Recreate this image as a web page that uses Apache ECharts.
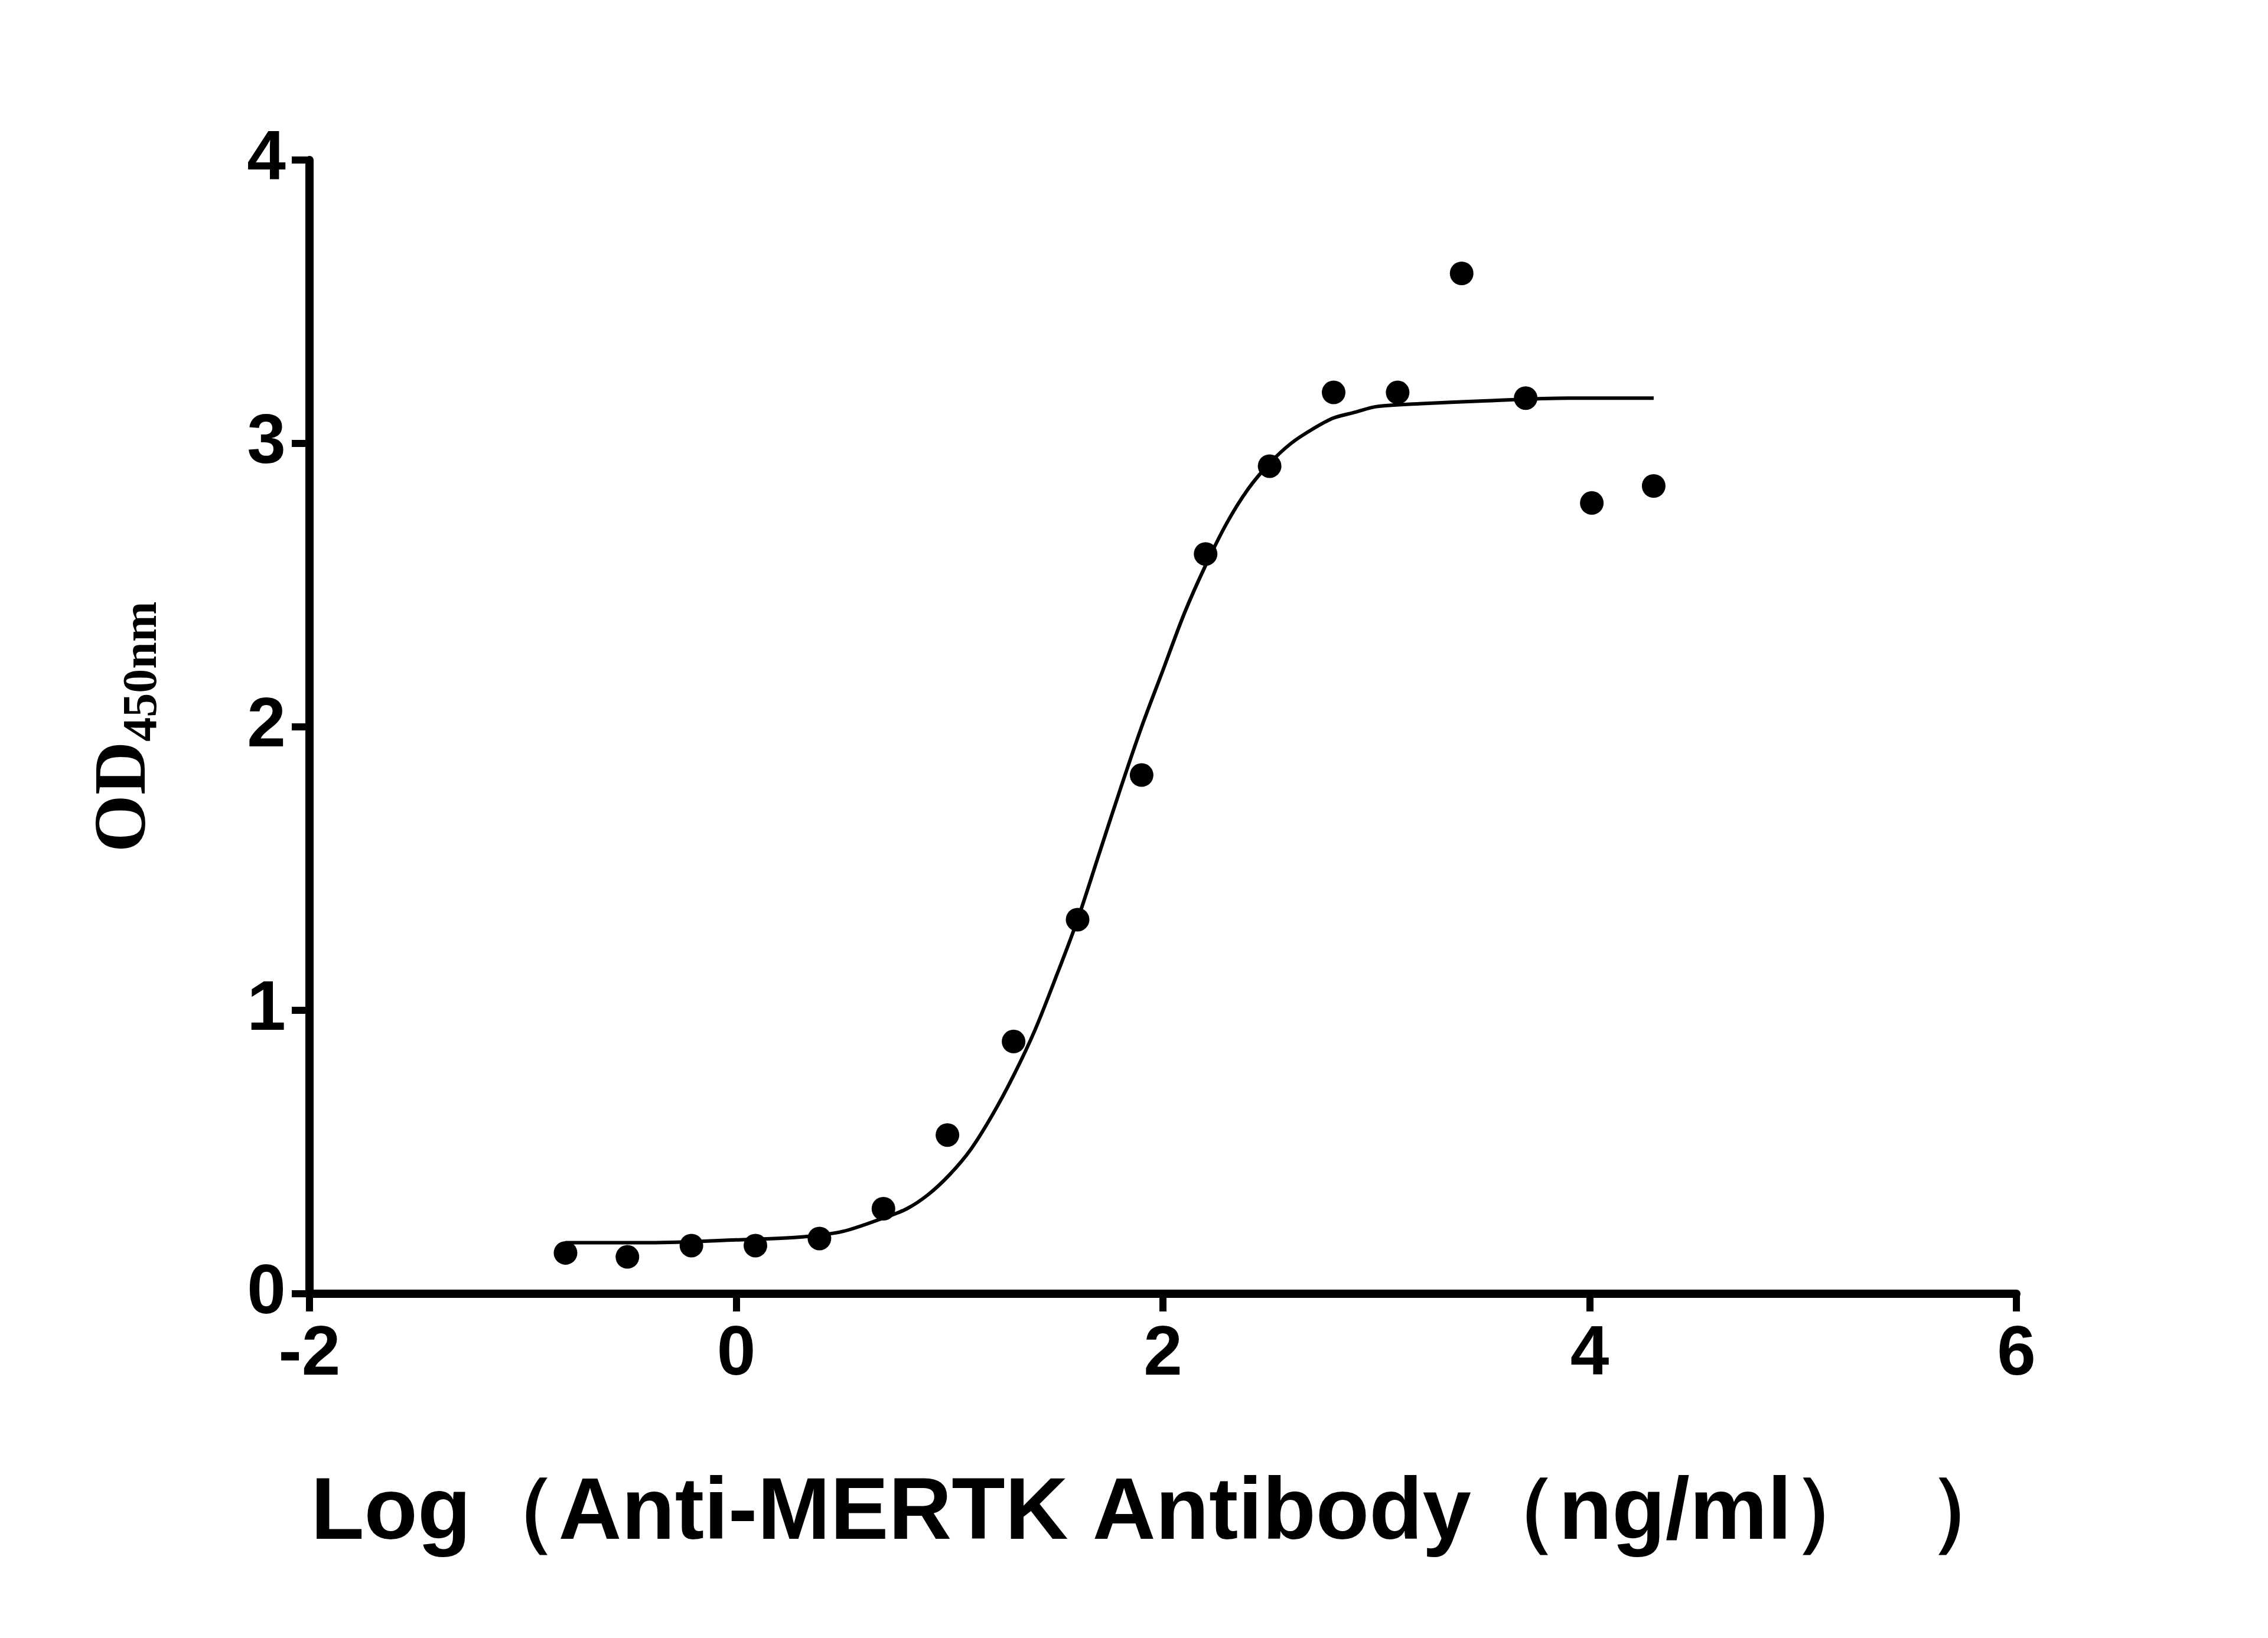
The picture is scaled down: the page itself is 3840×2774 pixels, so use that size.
<!DOCTYPE html>
<html><head><meta charset="utf-8">
<script src="https://cdn.jsdelivr.net/npm/echarts@6/dist/echarts.min.js"></script>
<style>html,body{margin:0;padding:0;background:#fff}#c{width:3840px;height:2774px}</style>
</head><body><div id="c"></div>
<script>
const pointX = [-0.8,-0.51,-0.21,0.09,0.39,0.69,0.99,1.30,1.60,1.90,2.20,2.50,2.80,3.10,3.40,3.70,4.01,4.30];
const pointY = [0.144,0.13,0.17,0.17,0.195,0.30,0.56,0.89,1.32,1.83,2.61,2.92,3.18,3.18,3.60,3.16,2.79,2.85];
const curveX = [-0.8,-0.4,0,0.3,0.5,0.7,0.8,0.9,1.0,1.1,1.2,1.3,1.4,1.5,1.6,1.7,1.8,1.9,2.0,2.1,2.2,2.3,2.4,2.5,2.6,2.7,2.8,2.9,3.0,3.2,3.5,3.9,4.3];
const curveY = [0.18,0.18,0.19,0.20,0.22,0.27,0.30,0.35,0.42,0.51,0.63,0.77,0.93,1.12,1.32,1.55,1.78,2.00,2.20,2.40,2.57,2.72,2.84,2.93,3.00,3.05,3.09,3.11,3.13,3.14,3.15,3.16,3.16];
const xTicks = [-2,0,2,4,6];
const yTicks = [0,1,2,3,4];
const chart = echarts.init(document.getElementById('c'));
const lbl = {color:'#000',fontSize:118,fontWeight:'bold',fontFamily:'Liberation Sans'};
const tick = {show:true,length:30,lineStyle:{color:'#000',width:12}};
chart.setOption({
  animation:false,
  grid:{left:524,right:426,top:271,bottom:583},
  xAxis:{type:'value',min:xTicks[0],max:xTicks[xTicks.length-1],interval:2,
    axisLine:{show:true,onZero:false,lineStyle:{color:'#000',width:14}},axisTick:tick,splitLine:{show:false},
    axisLabel:Object.assign({margin:45},lbl),
    name:'Log（Anti-MERTK Antibody（ng/ml）  ）',nameLocation:'middle',nameGap:300,
    nameTextStyle:{color:'#000',fontSize:148,fontWeight:'bold',fontFamily:'Liberation Sans'}},
  yAxis:{type:'value',min:yTicks[0],max:yTicks[yTicks.length-1],interval:1,
    axisLine:{show:true,onZero:false,lineStyle:{color:'#000',width:14}},axisTick:tick,splitLine:{show:false},
    axisLabel:Object.assign({margin:40},lbl),
    name:'{a|OD}{b|450nm}',nameLocation:'middle',nameGap:240,nameRotate:90,
    nameTextStyle:{rich:{a:{fontSize:125,fontWeight:'bold',fontFamily:'Liberation Serif',color:'#000'},
      b:{fontSize:82,fontWeight:'bold',fontFamily:'Liberation Serif',color:'#000',verticalAlign:'bottom',padding:[60,0,0,0]}}}},
  series:[
    {type:'line',smooth:0.3,symbol:'none',data:curveX.map((x,i)=>[x,curveY[i]]),lineStyle:{color:'#000',width:6}},
    {type:'scatter',symbolSize:40,itemStyle:{color:'#000',opacity:1},data:pointX.map((x,i)=>[x,pointY[i]])}
  ]
});
</script></body></html>
